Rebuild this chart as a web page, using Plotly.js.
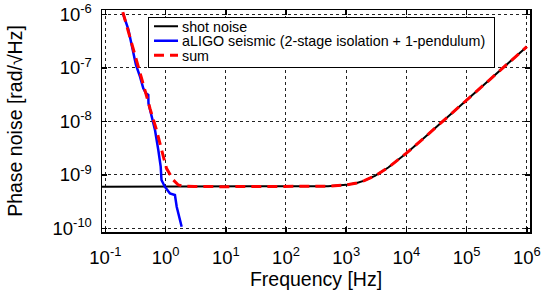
<!DOCTYPE html>
<html>
<head>
<meta charset="utf-8">
<script src="https://cdn.plot.ly/plotly-3.0.1.min.js"></script>
<style>html,body{margin:0;padding:0;background:#fff;}#chart{width:541px;height:295px;}</style>
</head>
<body>
<div id="chart"></div>
<script>
// Shot noise
const shotFreq = [0.088, 1, 10, 100, 200, 500, 1000, 1500, 2000, 3000, 5000, 7000, 1e4, 2e4, 5e4, 1e5, 2e5, 5e5, 1e6];
const shotNoise = [6.04e-10, 6.04e-10, 6.04e-10, 6.045e-10, 6.06e-10, 6.17e-10, 6.53e-10, 7.09e-10, 7.82e-10, 9.58e-10, 1.379e-9, 1.838e-9, 2.552e-9, 4.997e-9, 1.2415e-8, 2.48e-8, 4.96e-8, 1.24e-7, 2.48e-7];

// aLIGO seismic
const seisFreq = [0.195, 0.240, 0.273, 0.322, 0.376, 0.426, 0.472, 0.516, 0.52, 0.625, 0.667, 0.757, 0.830, 0.855, 0.971, 1.18, 1.43, 1.53, 1.85];
const seisNoise = [1.05e-6, 5.3e-7, 2.7e-7, 1.13e-7, 6.84e-8, 4.15e-8, 3.35e-8, 3.11e-8, 2.18e-8, 9.86e-9, 6.9e-9, 2.92e-9, 1.43e-9, 8.05e-10, 6.04e-10, 4.54e-10, 4.22e-10, 2.55e-10, 1.08e-10];

// Sum
const sumFreq = [0.195, 0.25, 0.3, 0.35, 0.4, 0.45, 0.5, 0.55, 0.625, 0.7, 0.855, 1.035, 1.34, 1.63, 2.0, 3.0, 10, 100, 200, 500, 1000, 1500, 2000, 3000, 5000, 7000, 1e4, 2e4, 5e4, 1e5, 2e5, 5e5, 1e6];
const sumNoise = [1.1e-6, 4.2e-7, 2.0e-7, 1.08e-7, 6.4e-8, 3.9e-8, 2.6e-8, 1.75e-8, 1.15e-8, 7.2e-9, 3.0e-9, 1.33e-9, 8.05e-10, 6.5e-10, 6.2e-10, 6.08e-10, 6.05e-10, 6.045e-10, 6.06e-10, 6.17e-10, 6.53e-10, 7.09e-10, 7.82e-10, 9.58e-10, 1.379e-9, 1.838e-9, 2.552e-9, 4.997e-9, 1.2415e-8, 2.48e-8, 4.96e-8, 1.24e-7, 2.48e-7];

const seriesNames = ['shot noise', 'aLIGO seismic (2-stage isolation + 1-pendulum)', 'sum'];

const xTickVals = [0.1, 1, 10, 100, 1000, 1e4, 1e5, 1e6];
const xTickText = ['10<sup>-1</sup>', '10<sup>0</sup>', '10<sup>1</sup>', '10<sup>2</sup>', '10<sup>3</sup>', '10<sup>4</sup>', '10<sup>5</sup>', '10<sup>6</sup>'];
const yTickVals = [1e-10, 1e-9, 1e-8, 1e-7, 1e-6];
const yTickText = ['10<sup>-10</sup>', '10<sup>-9</sup>', '10<sup>-8</sup>', '10<sup>-7</sup>', '10<sup>-6</sup>'];

const FONT = 'Liberation Sans, Arial, Helvetica, sans-serif';

const traces = [
  {x: shotFreq, y: shotNoise, name: seriesNames[0], mode: 'lines', line: {color: '#000000', width: 2}},
  {x: seisFreq, y: seisNoise, name: seriesNames[1], mode: 'lines', line: {color: '#0000ff', width: 2.5}},
  {x: sumFreq, y: sumNoise, name: seriesNames[2], mode: 'lines', line: {color: '#ff0000', width: 3, dash: '10px,6px'}}
];

const axisCommon = {
  type: 'log',
  ticks: 'inside', ticklen: 5, tickwidth: 1.5, tickcolor: '#000',
  showline: true, linecolor: '#000', linewidth: 1.5, mirror: 'ticks',
  showgrid: true, gridcolor: '#222', gridwidth: 1, griddash: 'dot',
  zeroline: false,
  tickfont: {family: FONT, size: 18.5, color: '#000'}
};

const layout = {
  width: 541, height: 295,
  margin: {l: 102, r: 11, t: 10, b: 63},
  paper_bgcolor: '#fff', plot_bgcolor: '#fff',
  font: {family: FONT, color: '#000'},
  showlegend: true,
  legend: {
    x: 0.1075, y: 0.97, xanchor: 'left', yanchor: 'top',
    bgcolor: '#fff', bordercolor: '#000', borderwidth: 1,
    font: {family: FONT, size: 14.3, color: '#000'},
    tracegroupgap: 0
  },
  xaxis: Object.assign({}, axisCommon, {
    range: [-1.056, 6.053],
    tickmode: 'array', tickvals: xTickVals, ticktext: xTickText,
    ticklabelstandoff: 8,
    title: {text: 'Frequency [Hz]', font: {family: FONT, size: 19.5, color: '#000'}, standoff: 1}
  }),
  yaxis: Object.assign({}, axisCommon, {
    range: [-10.065, -5.92],
    tickmode: 'array', tickvals: yTickVals, ticktext: yTickText,
    ticklabelstandoff: 5,
    title: {text: 'Phase noise [rad/√Hz]', font: {family: FONT, size: 19.5, color: '#000'}, standoff: 24}
  })
};

Plotly.newPlot('chart', traces, layout, {displayModeBar: false, staticPlot: true}).then(function (gd) {
  // compact the legend rows to match the tight spacing of the reference
  const legend = gd.querySelector('.legend');
  if (legend) {
    const items = legend.querySelectorAll('.traces');
    const rowTop = 9.5, rowStep = 14.6, textX = 33;
    let maxW = 0;
    items.forEach(function (el, i) {
      const m = /translate\(\s*([-\d.]+)/.exec(el.getAttribute('transform') || '');
      const tx = m ? parseFloat(m[1]) : 1;
      el.setAttribute('transform', 'translate(' + tx + ',' + (rowTop + i * rowStep) + ')');
      const txt = el.querySelector('text.legendtext');
      if (txt) {
        txt.setAttribute('x', textX);
        maxW = Math.max(maxW, txt.getComputedTextLength());
      }
      el.querySelectorAll('path.js-line').forEach(function (p) { p.setAttribute('d', 'M5,0h24'); });
    });
    const bg = legend.querySelector('rect.bg');
    if (bg) {
      bg.setAttribute('height', 50);
      if (maxW > 0) bg.setAttribute('width', Math.round(maxW + textX + 10));
    }
  }
});
</script>
</body>
</html>
